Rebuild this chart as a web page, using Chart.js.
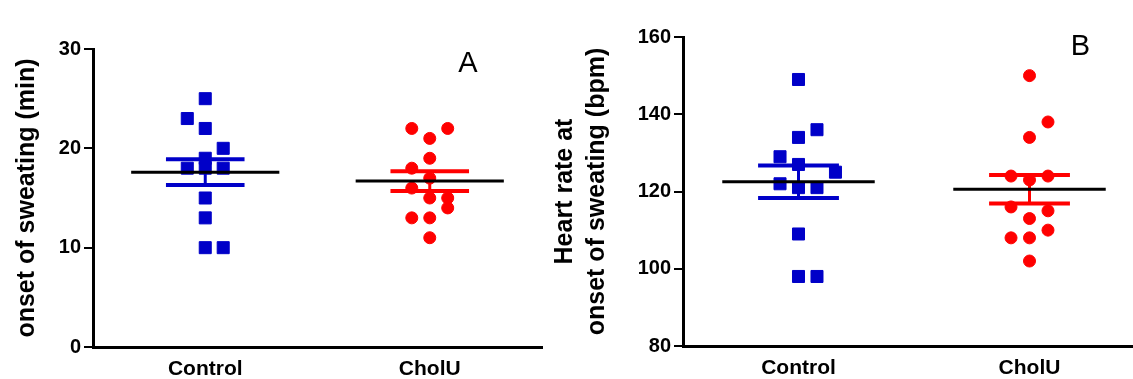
<!DOCTYPE html>
<html>
<head>
<meta charset="utf-8">
<script src="https://cdn.jsdelivr.net/npm/chart.js@4"></script>
<style>
    body { margin: 0; background: #fff; width: 1133px; height: 379px; overflow: hidden; position: relative; }
    canvas { position: absolute; top: 0; }
    #chartA { left: 0; }
    #chartB { left: 544px; }
</style>
</head>
<body>
<canvas id="chartA" width="544" height="379"></canvas>
<canvas id="chartB" width="589" height="379"></canvas>
<script>
// Groups
const groups = ['Control', 'CholU'];

// Panel A - onset of sweating (min)
const onsetControl = [25, 23, 22, 20, 19, 18, 18, 18, 15, 13, 10, 10];
const onsetControlCol = [0, -1, 0, 1, 0, -1, 0, 1, 0, 0, 0, 1];
const onsetCholU = [22, 22, 21, 19, 18, 17, 16, 15, 15, 14, 13, 13, 11];
const onsetCholUCol = [-1, 1, 0, 0, -1, 0, -1, 0, 1, 1, -1, 0, 0];
const onsetMean = [17.6, 16.7];
const onsetSem = [1.3, 1.0];
const onsetTicks = [0, 10, 20, 30];

// Panel B - heart rate at onset of sweating (bpm)
const hrControl = [149, 136, 134, 129, 127, 125, 122, 121, 121, 109, 98, 98];
const hrControlCol = [0, 1, 0, -1, 0, 2, -1, 0, 1, 0, 0, 1];
const hrCholU = [150, 138, 134, 124, 123, 124, 116, 115, 113, 110, 108, 108, 102];
const hrCholUCol = [0, 1, 0, -1, 0, 1, -1, 1, 0, 1, -1, 0, 0];
const hrMean = [122.5, 120.6];
const hrSem = [4.2, 3.7];
const hrTicks = [80, 100, 120, 140, 160];

const BLUE = 'rgb(0, 0, 200)';
const RED = 'rgb(255, 0, 0)';
const FONT = "'Liberation Sans', Arial, sans-serif";

const JITTER = 0.08;
const MEAN_HALF = 0.33;
const CAP_HALF = 0.175;

// Build scatter points for one group
function pointsFor(values, cols, groupIndex) {
    return values.map((v, i) => ({ x: groupIndex + 1 + cols[i] * JITTER, y: v }));
}

// A straight segment as its own line dataset
function segment(x0, y0, x1, y1, color, width, order) {
    return {
        type: 'line',
        data: [{ x: x0, y: y0 }, { x: x1, y: y1 }],
        borderColor: color,
        borderWidth: width,
        pointRadius: 0,
        fill: false,
        order: order
    };
}

// Mean line and SEM bars for each group
function summaryDatasets(means, sems, colors) {
    const sets = [];
    means.forEach((m, i) => {
        const g = i + 1;
        const top = m + sems[i];
        const bottom = m - sems[i];
        sets.push(segment(g, bottom, g, top, colors[i], 3, 2));
        sets.push(segment(g - CAP_HALF, top, g + CAP_HALF, top, colors[i], 4, 2));
        sets.push(segment(g - CAP_HALF, bottom, g + CAP_HALF, bottom, colors[i], 4, 2));
        sets.push(segment(g - MEAN_HALF, m, g + MEAN_HALF, m, '#000', 3, 1));
    });
    return sets;
}

// Panel letter drawn at a data position
const panelLetter = {
    id: 'panelLetter',
    afterDraw(chart, args, opts) {
        const ctx = chart.ctx;
        const x = chart.scales.x.getPixelForValue(opts.x);
        const y = chart.scales.y.getPixelForValue(opts.y);
        ctx.save();
        ctx.fillStyle = '#000';
        ctx.font = '29px ' + FONT;
        ctx.textAlign = 'center';
        ctx.textBaseline = 'middle';
        ctx.fillText(opts.text, x, y);
        ctx.restore();
    }
};

function makeChart(canvasId, cfg) {
    const ctx = document.getElementById(canvasId).getContext('2d');
    return new Chart(ctx, {
        type: 'scatter',
        data: {
            datasets: [
                {
                    data: pointsFor(cfg.control, cfg.controlCol, 0),
                    pointStyle: 'rect',
                    pointRadius: 8.5,
                    backgroundColor: BLUE,
                    borderColor: BLUE,
                    borderWidth: 1,
                    order: 3
                },
                {
                    data: pointsFor(cfg.cholu, cfg.choluCol, 1),
                    pointStyle: 'circle',
                    pointRadius: 6,
                    backgroundColor: RED,
                    borderColor: RED,
                    borderWidth: 1,
                    order: 3
                },
                ...summaryDatasets(cfg.mean, cfg.sem, [BLUE, RED])
            ]
        },
        options: {
            responsive: false,
            animation: false,
            layout: {
                autoPadding: false,
                padding: { left: 0, top: cfg.padTop, right: cfg.padRight, bottom: 0 }
            },
            plugins: {
                legend: { display: false },
                tooltip: { enabled: false },
                panelLetter: cfg.letter
            },
            scales: {
                x: {
                    type: 'linear',
                    min: 0.5,
                    max: cfg.xMax,
                    afterBuildTicks: (scale) => {
                        scale.ticks = groups.map((g, i) => ({ value: i + 1 }));
                    },
                    afterFit: (scale) => { scale.height = cfg.xHeight; },
                    ticks: {
                        callback: (value) => groups[Math.round(value) - 1],
                        color: '#000',
                        font: { family: FONT, size: 21, weight: 'bold' },
                        padding: 10,
                        maxRotation: 0,
                        autoSkip: false
                    },
                    grid: { display: false, drawTicks: false },
                    border: { display: true, color: '#000', width: 3 }
                },
                y: {
                    min: cfg.yTicks[0],
                    max: cfg.yTicks[cfg.yTicks.length - 1],
                    afterBuildTicks: (scale) => {
                        scale.ticks = cfg.yTicks.map(v => ({ value: v }));
                    },
                    afterFit: (scale) => { scale.width = cfg.yWidth; },
                    ticks: {
                        color: '#000',
                        font: { family: FONT, size: 20, weight: 'bold' },
                        padding: 3
                    },
                    grid: {
                        drawOnChartArea: false,
                        drawTicks: true,
                        tickLength: 9,
                        color: '#000',
                        lineWidth: 2
                    },
                    border: { display: true, color: '#000', width: 3 },
                    title: {
                        display: true,
                        text: cfg.title,
                        color: '#000',
                        font: { family: FONT, size: 25, weight: 'bold', lineHeight: 1.28 },
                        padding: { top: cfg.titlePad, bottom: 0 }
                    }
                }
            }
        },
        plugins: [panelLetter]
    });
}

makeChart('chartA', {
    control: onsetControl, controlCol: onsetControlCol,
    cholu: onsetCholU, choluCol: onsetCholUCol,
    mean: onsetMean, sem: onsetSem,
    yTicks: onsetTicks,
    title: 'onset of sweating (min)',
    titlePad: 11,
    yWidth: 93, xHeight: 32,
    padTop: 49, padRight: 2,
    xMax: 2.5,
    letter: { text: 'A', x: 2.17, y: 28.5 }
});

makeChart('chartB', {
    control: hrControl, controlCol: hrControlCol,
    cholu: hrCholU, choluCol: hrCholUCol,
    mean: hrMean, sem: hrSem,
    yTicks: hrTicks,
    title: ['Heart rate at', 'onset of sweating (bpm)'],
    titlePad: 5,
    yWidth: 139, xHeight: 33,
    padTop: 37, padRight: 0,
    xMax: 2.448,
    letter: { text: 'B', x: 2.22, y: 157.3 }
});
</script>
</body>
</html>
